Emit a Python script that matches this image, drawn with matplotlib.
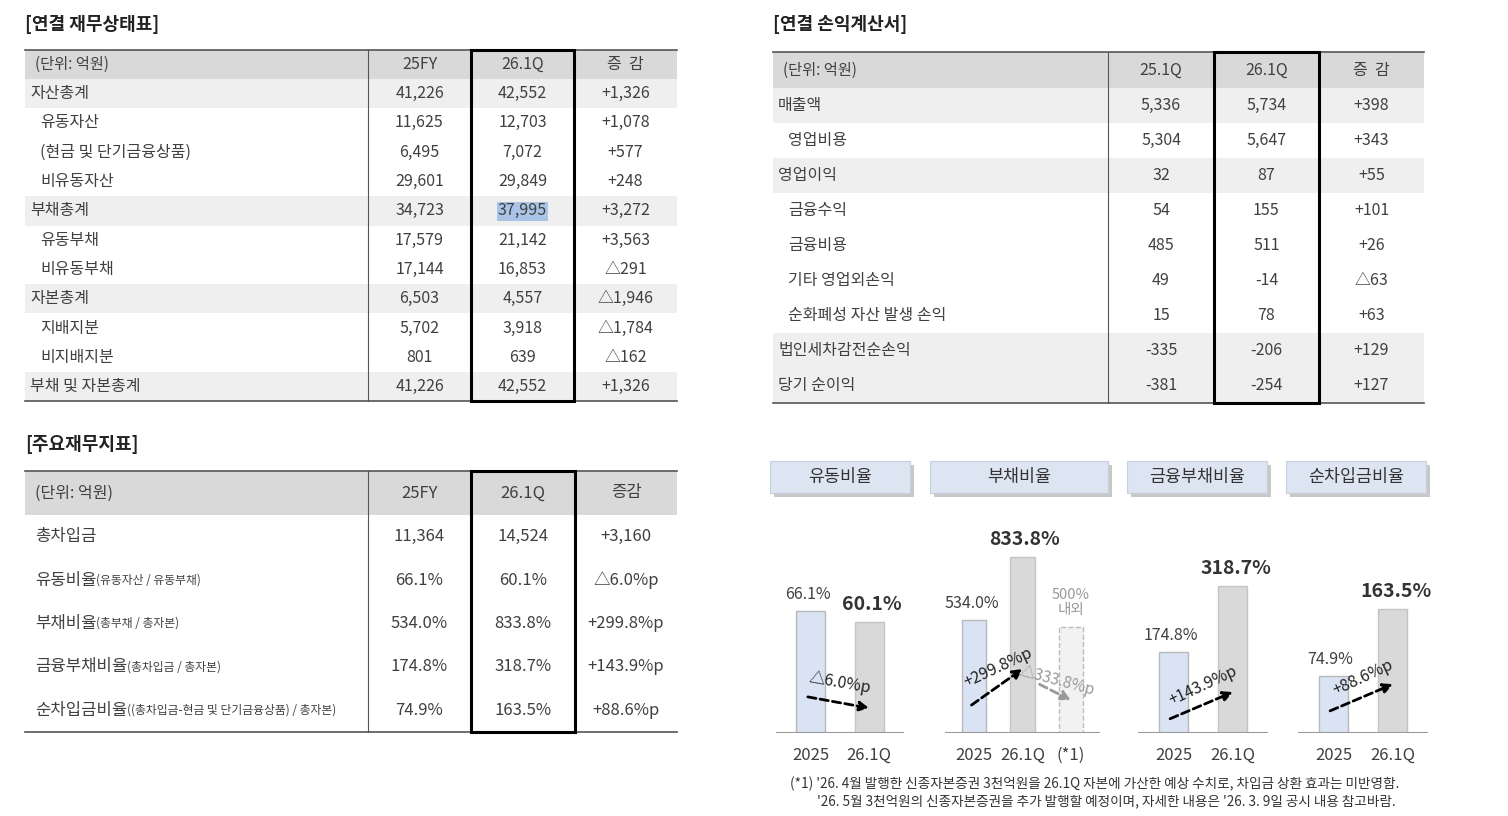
import matplotlib
matplotlib.use('Agg')
import matplotlib.pyplot as plt
from matplotlib.patches import Rectangle

plt.rcParams['font.family'] = ['Noto Sans CJK KR', 'DejaVu Sans']

# ---- data ----
bs_cols = ['(단위: 억원)', '25FY', '26.1Q', '증  감']
bs_labels = ['자산총계', '유동자산', '(현금 및 단기금융상품)', '비유동자산', '부채총계', '유동부채',
             '비유동부채', '자본총계', '지배지분', '비지배지분', '부채 및 자본총계']
bs_indent = [0, 1, 1, 1, 0, 1, 1, 0, 1, 1, 0]
bs_25fy = ['41,226', '11,625', '6,495', '29,601', '34,723', '17,579', '17,144', '6,503', '5,702', '801', '41,226']
bs_261q = ['42,552', '12,703', '7,072', '29,849', '37,995', '21,142', '16,853', '4,557', '3,918', '639', '42,552']
bs_diff = ['+1,326', '+1,078', '+577', '+248', '+3,272', '+3,563', '△291', '△1,946', '△1,784', '△162', '+1,326']
bs_shade = [1, 0, 0, 0, 1, 0, 0, 1, 0, 0, 1]

is_cols = ['(단위: 억원)', '25.1Q', '26.1Q', '증  감']
is_labels = ['매출액', '영업비용', '영업이익', '금융수익', '금융비용', '기타 영업외손익',
             '순화폐성 자산 발생 손익', '법인세차감전순손익', '당기 순이익']
is_indent = [0, 1, 0, 1, 1, 1, 1, 0, 0]
is_251q = ['5,336', '5,304', '32', '54', '485', '49', '15', '-335', '-381']
is_261q = ['5,734', '5,647', '87', '155', '511', '-14', '78', '-206', '-254']
is_diff = ['+398', '+343', '+55', '+101', '+26', '△63', '+63', '+129', '+127']
is_shade = [1, 0, 1, 0, 0, 0, 0, 1, 1]

kr_cols = ['(단위: 억원)', '25FY', '26.1Q', '증감']
kr_labels = ['총차입금', '유동비율', '부채비율', '금융부채비율', '순차입금비율']
kr_sub = ['', '(유동자산 / 유동부채)', '(총부채 / 총자본)', '(총차입금 / 총자본)',
          '((총차입금-현금 및 단기금융상품) / 총자본)']
kr_25fy = ['11,364', '66.1%', '534.0%', '174.8%', '74.9%']
kr_261q = ['14,524', '60.1%', '833.8%', '318.7%', '163.5%']
kr_diff = ['+3,160', '△6.0%p', '+299.8%p', '+143.9%p', '+88.6%p']

ratio_names = ['유동비율', '부채비율', '금융부채비율', '순차입금비율']
ratio_2025 = [66.1, 534.0, 174.8, 74.9]
ratio_261q = [60.1, 833.8, 318.7, 163.5]
ratio_chg = ['△6.0%p', '+299.8%p', '+143.9%p', '+88.6%p']
ratio_after = 500.0
ratio_after_chg = '△333.8%p'

W, H = 1508, 816
fig = plt.figure(figsize=(W / 100, H / 100), dpi=100)
bg = fig.add_axes([0, 0, 1, 1])
bg.set_xlim(0, W)
bg.set_ylim(H, 0)
bg.axis('off')

TXT = '#404040'


def table(x_edges, y_top, head_h, row_h, cols, rows, shade, indent, fs=11.5):
    x0, x1 = x_edges[0], x_edges[-1]
    bg.add_patch(Rectangle((x0, y_top), x1 - x0, head_h, color='#d9d9d9', lw=0))
    y_end = y_top + head_h + row_h * len(rows)
    bg.plot([x0, x1], [y_top, y_top], color='#555555', lw=1.2)
    bg.plot([x0, x1], [y_end, y_end], color='#555555', lw=1.2)
    for xe in x_edges[1:-1]:
        bg.plot([xe, xe], [y_top, y_end], color='#555555', lw=0.8)
    for j, c in enumerate(cols):
        if j == 0:
            bg.text(x0 + 10, y_top + head_h / 2, c, ha='left', va='center', fontsize=fs - 0.5, color=TXT)
        else:
            bg.text((x_edges[j] + x_edges[j + 1]) / 2, y_top + head_h / 2, c, ha='center', va='center',
                    fontsize=fs, color=TXT)
    for i, r in enumerate(rows):
        yc = y_top + head_h + row_h * (i + 0.5)
        if shade[i]:
            bg.add_patch(Rectangle((x0, yc - row_h / 2), x1 - x0, row_h, color='#efefef', lw=0, zorder=0))
        bg.text(x0 + 5 + 10 * indent[i], yc, r[0], ha='left', va='center', fontsize=fs, color=TXT)
        for j in range(1, 4):
            bg.text((x_edges[j] + x_edges[j + 1]) / 2, yc, r[j], ha='center', va='center', fontsize=fs, color=TXT)
    bg.add_patch(Rectangle((x_edges[2], y_top), x_edges[3] - x_edges[2], y_end - y_top,
                           fill=False, ec='black', lw=2.2, zorder=5))
    return y_end


# balance sheet
bg.text(25, 25, '[연결 재무상태표]', fontsize=13, fontweight='bold', va='center', color='#222222')
bx = [25, 368, 471, 574, 677]
rows = list(zip(bs_labels, bs_25fy, bs_261q, bs_diff))
table(bx, 50, 29, 29.3, bs_cols, rows, bs_shade, bs_indent)
bg.add_patch(Rectangle((497, 202), 51, 19, color='#a9c4e6', lw=0, zorder=0.5))

# income statement
bg.text(773, 25, '[연결 손익계산서]', fontsize=13, fontweight='bold', va='center', color='#222222')
ix = [773, 1108, 1214, 1319, 1424]
rows = list(zip(is_labels, is_251q, is_261q, is_diff))
table(ix, 52, 36, 35, is_cols, rows, is_shade, is_indent)

# key ratios
bg.text(25, 445, '[주요재무지표]', fontsize=13, fontweight='bold', va='center', color='#222222')
kx = [25, 368, 471, 575, 677]
rows = list(zip([''] * 5, kr_25fy, kr_261q, kr_diff))
table(kx, 471, 44, 43.4, kr_cols, rows, [0] * 5, [0] * 5, fs=12)
for i, (lab, sub) in enumerate(zip(kr_labels, kr_sub)):
    yc = 515 + 43.4 * (i + 0.5)
    t = bg.text(35, yc, lab, ha='left', va='center', fontsize=12, color=TXT)
    if sub:
        bg.annotate(sub, xycoords=t, xy=(1, 0.5), va='center', ha='left', fontsize=8.5, color=TXT)

# ratio label boxes
for name, (x0, x1) in zip(ratio_names, [(770, 910), (930, 1108), (1127, 1267), (1286, 1426)]):
    bg.add_patch(Rectangle((x0 + 4, 465), x1 - x0, 32, color='#c8c8c8', lw=0, zorder=1))
    bg.add_patch(Rectangle((x0, 461), x1 - x0, 32, fc='#dde5f3', ec='#c8cfdb', lw=0.8, zorder=2))
    bg.text((x0 + x1) / 2, 477, name, ha='center', va='center', fontsize=12.5, color='#333333', zorder=3)

# mini bar charts, each with its own scale
base_y, top_y = 733, 470
groups = [(776, 904, 142.5), (945, 1100, 1246), (1138, 1268, 570), (1298, 1428, 347)]
arrows = [(0.3 * 66.1 / 142.5, 0.2 * 66.1 / 142.5), (0.10, 0.25), (0.05, 0.16), (0.08, 0.19)]
BLUE, GRAY = '#dae3f3', '#d9d9d9'
for g, (x0, x1, ymax) in enumerate(groups):
    ax = fig.add_axes([x0 / W, 1 - base_y / H, (x1 - x0) / W, (base_y - top_y) / H])
    ax.set_ylim(0, ymax)
    n = 3 if g == 1 else 2
    ax.set_xlim(-0.6, n - 0.4)
    ax.axis('off')
    ax.axhline(0, color='#999999', lw=1.5)
    v0, v1 = ratio_2025[g], ratio_261q[g]
    ax.bar(0, v0, width=0.5, color=BLUE, ec='#b8b8b8', lw=1)
    ax.bar(1, v1, width=0.5, color=GRAY, ec='#c4c4c4', lw=1)
    ax.text(-0.05, v0 + ymax * 0.03, f'{v0:.1f}%', ha='center', va='bottom', fontsize=11.5, color=TXT)
    ax.text(1.05, v1 + ymax * 0.03, f'{v1:.1f}%', ha='center', va='bottom', fontsize=14,
            fontweight='bold', color='#333333')
    xl = ['2025', '26.1Q'] + (['(*1)'] if n == 3 else [])
    for k, s in enumerate(xl):
        ax.text(k, -ymax * 0.085, s, ha='center', va='center', fontsize=12, color=TXT, clip_on=False)
    ya, yb = arrows[g][0] * ymax, arrows[g][1] * ymax
    ax.annotate('', xy=(1.05, yb), xytext=(-0.1, ya),
                arrowprops=dict(arrowstyle='-|>', color='black', lw=2, ls=(0, (3, 1.5)), mutation_scale=14))
    ang = -10 if g == 0 else 25
    ax.text(0.5, (ya + yb) / 2 + ymax * 0.075, ratio_chg[g], ha='center', va='center', fontsize=11.5,
            rotation=ang, color='#222222')
    if g == 1:
        ax.bar(2, ratio_after, width=0.5, color='#f2f2f2', ec='#bbbbbb', lw=1, ls='--')
        ax.text(2, ratio_after + ymax * 0.04, '500%\n내외', ha='center', va='bottom', fontsize=10.5,
                color='#999999', linespacing=1.1)
        ax.annotate('', xy=(2.05, ymax * 0.12), xytext=(1.3, ymax * 0.19),
                    arrowprops=dict(arrowstyle='-|>', color='#999999', lw=2, ls=(0, (3, 1.5)),
                                    mutation_scale=14))
        ax.text(1.72, ymax * 0.2, ratio_after_chg, ha='center', va='center', fontsize=11,
                rotation=-15, color='#999999')

bg.text(790, 784, "(*1) '26. 4월 발행한 신종자본증권 3천억원을 26.1Q 자본에 가산한 예상 수치로, 차입금 상환 효과는 미반영함.",
        fontsize=9.8, va='center', color='#333333')
bg.text(817, 801, "'26. 5월 3천억원의 신종자본증권을 추가 발행할 예정이며, 자세한 내용은 '26. 3. 9일 공시 내용 참고바람.",
        fontsize=9.8, va='center', color='#333333')

fig.savefig('out.png', dpi=100, facecolor='white')
